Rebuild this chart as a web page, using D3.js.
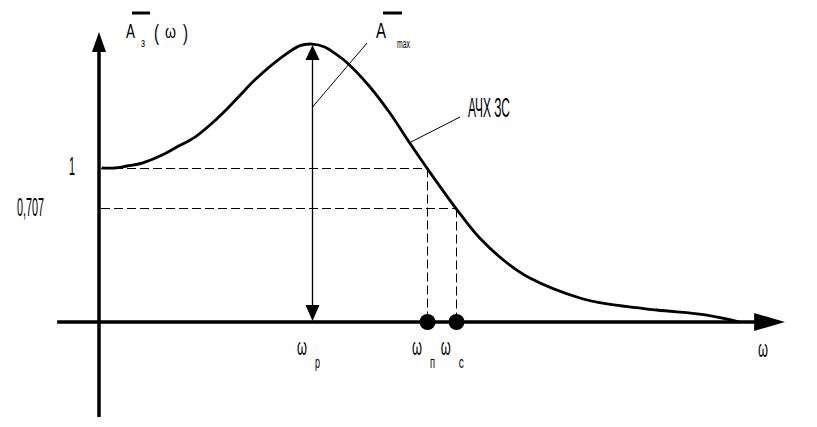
<!DOCTYPE html>
<html><head><meta charset="utf-8">
<script src="https://cdn.jsdelivr.net/npm/d3@7"></script>
<style>
html,body{margin:0;padding:0;background:#fff;}
text{font-family:"Liberation Sans","Arimo",sans-serif;fill:#000;}
</style></head>
<body>
<svg id="c" width="817" height="427"></svg>
<script>
// ---- data (ω in arbitrary units, A relative) ----
const curveOmega = [0.4, 2.3, 4.1, 6.3, 9.2, 11.1, 14.0, 16.5, 18.8, 20.6, 22.7, 26.7, 29.3, 31.05, 32.9, 34.7, 36.2, 39.5, 42.4, 45.3, 47.8, 52.0, 55.5, 59.5, 62.8, 70.1, 74.1, 81.3, 88.6, 93.4];
const curveA     = [1.0, 1.0, 1.013, 1.032, 1.084, 1.13, 1.201, 1.292, 1.39, 1.474, 1.571, 1.721, 1.795, 1.805, 1.786, 1.734, 1.682, 1.526, 1.357, 1.162, 1.0, 0.74, 0.545, 0.383, 0.286, 0.156, 0.117, 0.078, 0.045, 0.0];
const levelValues = [1.0, 0.74];          // dashed levels
const levelLabels = ["1", "0,707"];
const markOmega = [31.05, 47.8, 52.0];     // ωр, ωп, ωс
const markNames = ["р", "п", "с"];
const peakA = 1.805;

const svg = d3.select("#c");
const x = d3.scaleLinear().domain([0, 100]).range([99, 785]);
const y = d3.scaleLinear().domain([0, 1]).range([322, 168]);

// dashed guide lines
levelValues.forEach((v, i) => {
  const wx = i === 0 ? markOmega[1] : markOmega[2];
  const yy = Math.round(y(v)) + 0.5, xx = Math.round(x(wx)) + 0.5;
  svg.append("line").attr("x1", x(0.3)).attr("x2", xx).attr("y1", yy).attr("y2", yy)
    .attr("stroke", "#000").attr("stroke-width", 1).attr("stroke-dasharray", "9,4");
  svg.append("line").attr("x1", xx).attr("x2", xx).attr("y1", yy).attr("y2", y(0))
    .attr("stroke", "#000").attr("stroke-width", 1).attr("stroke-dasharray", "9,4");
});

// axes
svg.append("line").attr("x1", x(-6.1)).attr("x2", x(96)).attr("y1", y(0)).attr("y2", y(0))
  .attr("stroke", "#000").attr("stroke-width", 3.5);
svg.append("path").attr("d", `M${x(95.5)},${y(0)-9} L${x(100)},${y(0)} L${x(95.5)},${y(0)+9} Z`).attr("fill", "#000");
svg.append("line").attr("x1", x(0)).attr("x2", x(0)).attr("y1", 417).attr("y2", 50)
  .attr("stroke", "#000").attr("stroke-width", 3.5);
svg.append("path").attr("d", `M${x(0)-7},52 L${x(0)},32 L${x(0)+7},52 Z`).attr("fill", "#000");

// curve
const pts = curveOmega.map((w, i) => [x(w), y(curveA[i])]);
svg.append("path").attr("d", d3.line().curve(d3.curveCatmullRom.alpha(0.5))(pts))
  .attr("fill", "none").attr("stroke", "#000").attr("stroke-width", 2.8);

// double arrow at ωр
const xp = Math.round(x(markOmega[0])) + 0.5;
svg.append("line").attr("x1", xp).attr("x2", xp).attr("y1", y(peakA) + 10).attr("y2", y(0) - 10)
  .attr("stroke", "#000").attr("stroke-width", 1.3);
svg.append("path").attr("d", `M${xp-7},${y(peakA)+16} L${xp},${y(peakA)+1} L${xp+7},${y(peakA)+16} Z`).attr("fill", "#000");
svg.append("path").attr("d", `M${xp-7},${y(0)-17} L${xp},${y(0)-1} L${xp+7},${y(0)-17} Z`).attr("fill", "#000");

// dots
[markOmega[1], markOmega[2]].forEach(w => {
  svg.append("circle").attr("cx", Math.round(x(w)) + 0.5).attr("cy", y(0)).attr("r", 8).attr("fill", "#000");
});

// leader lines
svg.append("line").attr("x1", xp).attr("y1", 107).attr("x2", 367).attr("y2", 43).attr("stroke", "#000").attr("stroke-width", 1);
svg.append("line").attr("x1", 411).attr("y1", 142).attr("x2", 460).attr("y2", 117).attr("stroke", "#000").attr("stroke-width", 1);

function t(str, px, py, size, len, anchor) {
  const e = svg.append("text").attr("x", px).attr("y", py).attr("font-size", size).text(str);
  if (len) e.attr("textLength", len).attr("lengthAdjust", "spacingAndGlyphs");
  if (anchor) e.attr("text-anchor", anchor);
  return e;
}

// y labels
t(levelLabels[0], 69, y(levelValues[0]) + 7, 25, 6);
t(levelLabels[1], 17, y(levelValues[1]) + 8, 25, 27);

// A(ω) label
t("A", 126, 38, 21, 9);
svg.append("line").attr("x1", 132).attr("x2", 150).attr("y1", 13).attr("y2", 13).attr("stroke", "#000").attr("stroke-width", 3);
t("з", 141, 47, 12, 4);
t("(", 154, 40, 22, 5);
t("ω", 165, 38, 19, 11);
t(")", 183, 40, 22, 5);

// A max label
t("A", 376, 38, 22, 10);
svg.append("line").attr("x1", 383).attr("x2", 402).attr("y1", 13).attr("y2", 13).attr("stroke", "#000").attr("stroke-width", 3);
t("max", 397, 48, 12, 13);

// curve label
t("АЧХ ЗС", 468, 117, 27, 42);

// bottom labels
markOmega.forEach((w, i) => {
  const cx = x(w);
  t("ω", cx - 15, 355, 24, 10);
  t(markNames[i], cx + 3, 368, 16, 5);
});
t("ω", 758, 357, 24, 10);
</script>
</body></html>
